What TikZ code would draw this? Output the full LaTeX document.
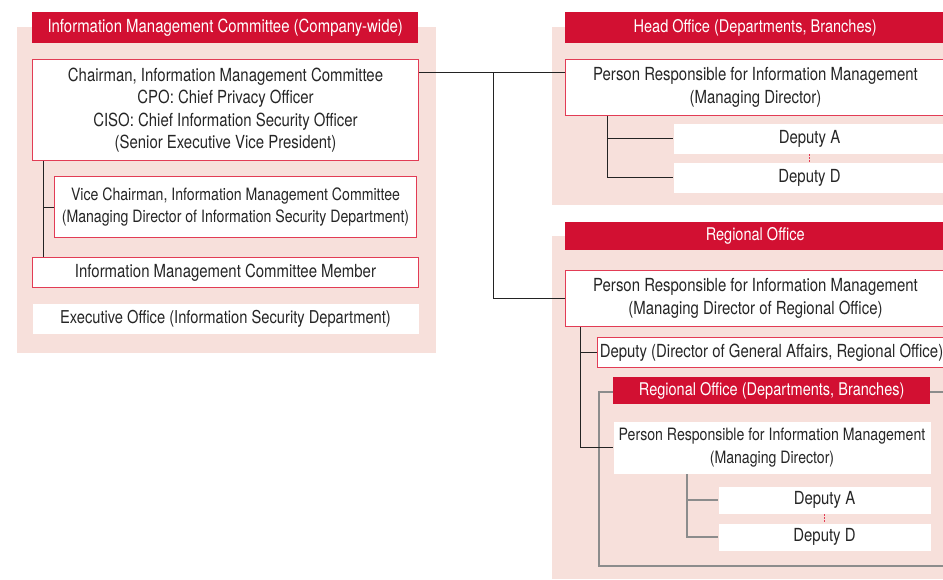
\documentclass[tikz,border=0pt]{standalone}
\usepackage{fontspec}
\setmainfont{TeX Gyre Heros}[FakeStretch=0.83]
\usepackage{xcolor}
\usepackage{tikz}
\usetikzlibrary{positioning, calc}
\definecolor{HdrRed}{RGB}{210,16,50}
\definecolor{PanelPink}{RGB}{247,224,219}
\definecolor{BoxRed}{RGB}{226,60,85}
\definecolor{LineGray}{RGB}{140,140,140}
\definecolor{LineDark}{RGB}{35,35,35}
\tikzset{
  hdr/.style={fill=HdrRed, text=white, anchor=north west, inner sep=0pt,
    font=\fontsize{17.5}{21}\selectfont},
  orgbox/.style={draw=BoxRed, line width=1pt, fill=white, anchor=north west, inner sep=0pt,
    align=center, text=black!85, font=\fontsize{18}{22.5}\selectfont},
  plainbox/.style={orgbox, draw=none},
  smalltext/.style={font=\fontsize{17}{22.5}\selectfont},
  link/.style={LineDark, line width=1pt},
  sublink/.style={LineGray, line width=1.2pt},
  gapdots/.style={BoxRed, line width=1pt, dash pattern=on 1.5pt off 1.5pt},
}

\begin{document}
\begin{tikzpicture}[x=1pt, y=-1pt]
  \useasboundingbox (0,0) rectangle (943,579);
  \clip (0,0) rectangle (943,579);

  % panels
  \fill[PanelPink] (17,27) rectangle (436,353);
  \fill[PanelPink] (552,27) rectangle (943,205);
  \fill[PanelPink] (552,236) rectangle (943,579);

  % company-wide committee
  \node[hdr, minimum width=386pt, minimum height=31pt, font=\fontsize{18}{21}\selectfont] (imc) at (32,12) {Information Management Committee (Company-wide)};
  \node[orgbox, minimum width=386pt, minimum height=101pt] (chair) at (32,59)
    {Chairman, Information Management Committee\\CPO: Chief Privacy Officer\\CISO: Chief Information Security Officer\\(Senior Executive Vice President)};
  \node[orgbox, smalltext, minimum width=362pt, minimum height=61pt] (vice) at (54,176)
    {Vice Chairman, Information Management Committee\\(Managing Director of Information Security Department)};
  \node[orgbox, minimum width=386pt, minimum height=30pt] (member) at (32,257) {Information Management Committee Member};
  \node[plainbox, minimum width=386pt, minimum height=30pt, font=\fontsize{17.7}{22}\selectfont] (exec) at (32,303) {Executive Office (Information Security Department)};

  % head office
  \node[hdr, minimum width=380pt, minimum height=31pt] (head) at (565,12) {Head Office (Departments, Branches)};
  \node[orgbox, minimum width=380pt, minimum height=56pt] (hperson) at (565,59)
    {Person Responsible for Information Management\\(Managing Director)};
  \node[plainbox, minimum width=272pt, minimum height=30pt] (hdepA) at (673,123) {Deputy A};
  \node[plainbox, minimum width=272pt, minimum height=30pt] (hdepD) at (673,162) {Deputy D};

  % regional office
  \node[hdr, minimum width=380pt, minimum height=28pt] (reg) at (565,222) {Regional Office};
  \node[orgbox, minimum width=380pt, minimum height=56pt] (rperson) at (565,270)
    {Person Responsible for Information Management\\(Managing Director of Regional Office)};
  \node[orgbox, minimum width=348pt, minimum height=30pt] (rdep) at (597,337) {Deputy (Director of General Affairs, Regional Office)};

  \draw[sublink] (599,392) rectangle (960,566);
  \node[hdr, minimum width=317pt, minimum height=27pt] (rsub) at (613,377) {Regional Office (Departments, Branches)};
  \node[plainbox, smalltext, minimum width=317pt, minimum height=52pt] (iperson) at (613,421)
    {Person Responsible for Information Management\\(Managing Director)};
  \node[plainbox, minimum width=212pt, minimum height=27pt] (idepA) at (718,486) {Deputy A};
  \node[plainbox, minimum width=212pt, minimum height=27pt] (idepD) at (718,523) {Deputy D};

  % connectors
  \coordinate (trunk) at (493,0);
  \draw[link] (chair.north east) ++(0,13) coordinate (j1) -- (j1 -| hperson.west);
  \draw[link] (j1 -| trunk) |- (rperson.west);
  \draw[link] (chair.south west) ++(11,0) coordinate (c1) -- (c1 |- member.north);
  \draw[link] (c1 |- vice.west) -- (vice.west);
  \draw[link] (hperson.south west) ++(42,0) coordinate (h1) |- (hdepD.west);
  \draw[link] (h1 |- hdepA.west) -- (hdepA.west);
  \draw[gapdots] (hdepA.south) -- (hdepD.north);
  \draw[link] (rperson.south west) ++(15,0) coordinate (r1) |- (iperson.west);
  \draw[link] (r1 |- rdep.west) -- (rdep.west);
  \draw[sublink] (iperson.south west) ++(74,0) coordinate (i1) |- (idepD.west);
  \draw[sublink] (i1 |- idepA.west) -- (idepA.west);
  \draw[gapdots] (idepA.south) -- (idepD.north);
\end{tikzpicture}
\end{document}
